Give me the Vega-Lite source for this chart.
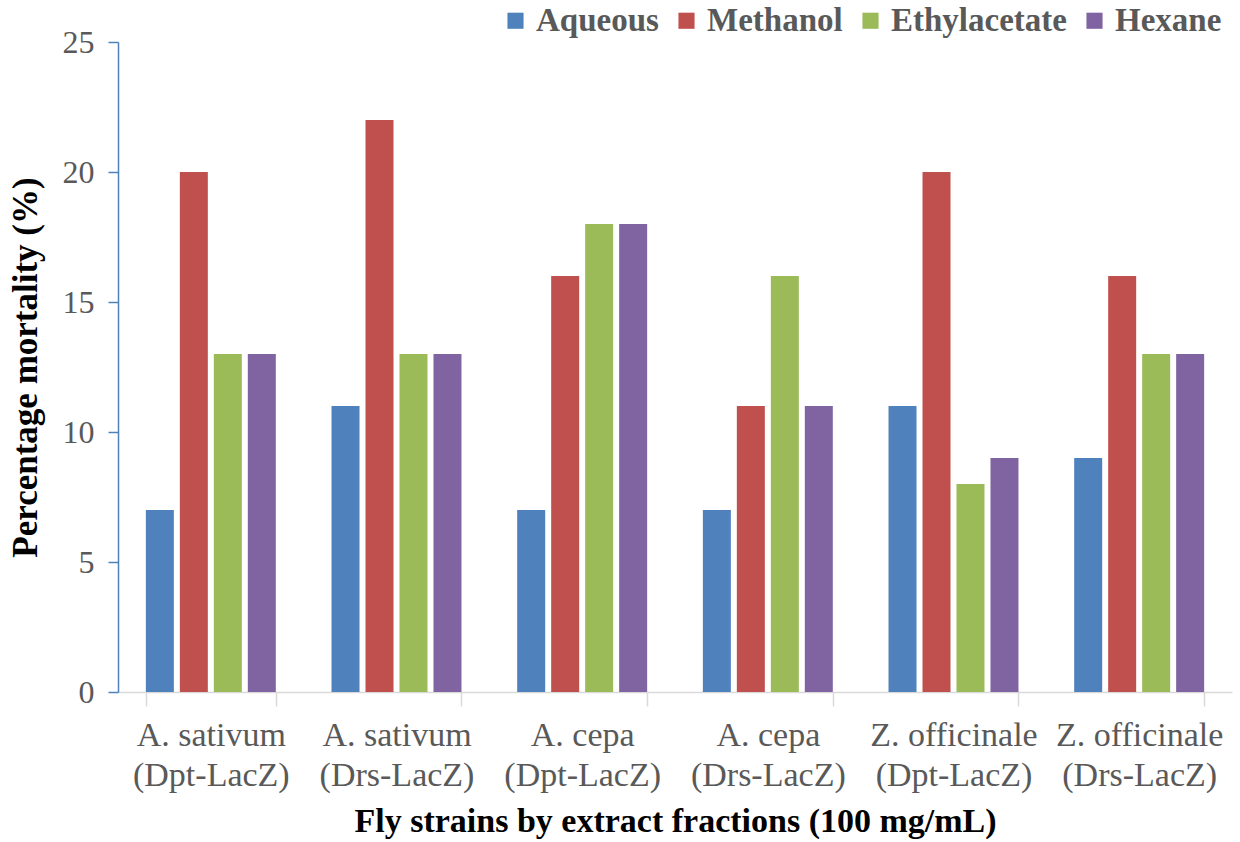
{
  "$schema": "https://vega.github.io/schema/vega-lite/v6.json",
  "width": 1114,
  "height": 650,
  "autosize": {"type": "none"},
  "padding": {"left": 118, "top": 42, "right": 8, "bottom": 150},
  "background": "white",
  "data": {
    "values": [
      {"strain": "A. sativum|(Dpt-LacZ)", "fraction": "Aqueous", "mortality": 7},
      {"strain": "A. sativum|(Dpt-LacZ)", "fraction": "Methanol", "mortality": 20},
      {"strain": "A. sativum|(Dpt-LacZ)", "fraction": "Ethylacetate", "mortality": 13},
      {"strain": "A. sativum|(Dpt-LacZ)", "fraction": "Hexane", "mortality": 13},
      {"strain": "A. sativum|(Drs-LacZ)", "fraction": "Aqueous", "mortality": 11},
      {"strain": "A. sativum|(Drs-LacZ)", "fraction": "Methanol", "mortality": 22},
      {"strain": "A. sativum|(Drs-LacZ)", "fraction": "Ethylacetate", "mortality": 13},
      {"strain": "A. sativum|(Drs-LacZ)", "fraction": "Hexane", "mortality": 13},
      {"strain": "A. cepa|(Dpt-LacZ)", "fraction": "Aqueous", "mortality": 7},
      {"strain": "A. cepa|(Dpt-LacZ)", "fraction": "Methanol", "mortality": 16},
      {"strain": "A. cepa|(Dpt-LacZ)", "fraction": "Ethylacetate", "mortality": 18},
      {"strain": "A. cepa|(Dpt-LacZ)", "fraction": "Hexane", "mortality": 18},
      {"strain": "A. cepa|(Drs-LacZ)", "fraction": "Aqueous", "mortality": 7},
      {"strain": "A. cepa|(Drs-LacZ)", "fraction": "Methanol", "mortality": 11},
      {"strain": "A. cepa|(Drs-LacZ)", "fraction": "Ethylacetate", "mortality": 16},
      {"strain": "A. cepa|(Drs-LacZ)", "fraction": "Hexane", "mortality": 11},
      {"strain": "Z. officinale|(Dpt-LacZ)", "fraction": "Aqueous", "mortality": 11},
      {"strain": "Z. officinale|(Dpt-LacZ)", "fraction": "Methanol", "mortality": 20},
      {"strain": "Z. officinale|(Dpt-LacZ)", "fraction": "Ethylacetate", "mortality": 8},
      {"strain": "Z. officinale|(Dpt-LacZ)", "fraction": "Hexane", "mortality": 9},
      {"strain": "Z. officinale|(Drs-LacZ)", "fraction": "Aqueous", "mortality": 9},
      {"strain": "Z. officinale|(Drs-LacZ)", "fraction": "Methanol", "mortality": 16},
      {"strain": "Z. officinale|(Drs-LacZ)", "fraction": "Ethylacetate", "mortality": 13},
      {"strain": "Z. officinale|(Drs-LacZ)", "fraction": "Hexane", "mortality": 13}
    ]
  },
  "config": {
    "view": {"stroke": null},
    "font": "Liberation Serif"
  },
  "mark": {"type": "bar"},
  "encoding": {
    "x": {
      "field": "strain",
      "type": "nominal",
      "sort": null,
      "scale": {"paddingInner": 0.3, "paddingOuter": 0.15},
      "axis": {
        "title": "Fly strains by extract fractions (100 mg/mL)",
        "titleFont": "Liberation Serif",
        "titleFontSize": 34,
        "titleFontWeight": "bold",
        "titleColor": "black",
        "titlePadding": 12,
        "labelExpr": "split(datum.label, '|')",
        "labelAngle": 0,
        "labelFont": "Liberation Serif",
        "labelFontSize": 34,
        "labelColor": "#595959",
        "labelLineHeight": 40,
        "labelPadding": 12,
        "domainColor": "#D9D9D9",
        "domainWidth": 1.5,
        "tickColor": "#D9D9D9",
        "tickWidth": 1.5,
        "tickSize": 14,
        "tickBand": "extent",
        "grid": false
      }
    },
    "xOffset": {
      "field": "fraction",
      "type": "nominal",
      "sort": ["Aqueous", "Methanol", "Ethylacetate", "Hexane"],
      "scale": {"paddingInner": 0.176, "paddingOuter": 0}
    },
    "y": {
      "field": "mortality",
      "type": "quantitative",
      "scale": {"domain": [0, 25]},
      "axis": {
        "title": "Percentage mortality (%)",
        "titleFont": "Liberation Serif",
        "titleFontSize": 35,
        "titleFontWeight": "bold",
        "titleColor": "black",
        "titlePadding": 19,
        "values": [0, 5, 10, 15, 20, 25],
        "labelFont": "Liberation Serif",
        "labelFontSize": 32,
        "labelColor": "#595959",
        "labelPadding": 14,
        "domainColor": "#4F81BD",
        "domainWidth": 1.5,
        "tickColor": "#4F81BD",
        "tickWidth": 1.5,
        "tickSize": 10,
        "grid": false
      }
    },
    "color": {
      "field": "fraction",
      "type": "nominal",
      "sort": ["Aqueous", "Methanol", "Ethylacetate", "Hexane"],
      "scale": {
        "domain": ["Aqueous", "Methanol", "Ethylacetate", "Hexane"],
        "range": ["#4F81BD", "#C0504D", "#9BBB59", "#8064A2"]
      },
      "legend": {
        "title": null,
        "orient": "none",
        "direction": "horizontal",
        "legendX": 381,
        "legendY": -38,
        "symbolType": "square",
        "symbolSize": 260,
        "symbolStrokeWidth": 0,
        "labelFont": "Liberation Serif",
        "labelFontSize": 33,
        "labelFontWeight": "bold",
        "labelColor": "#595959",
        "labelOffset": 4,
        "columnPadding": 11,
        "labelLimit": 400
      }
    }
  }
}
